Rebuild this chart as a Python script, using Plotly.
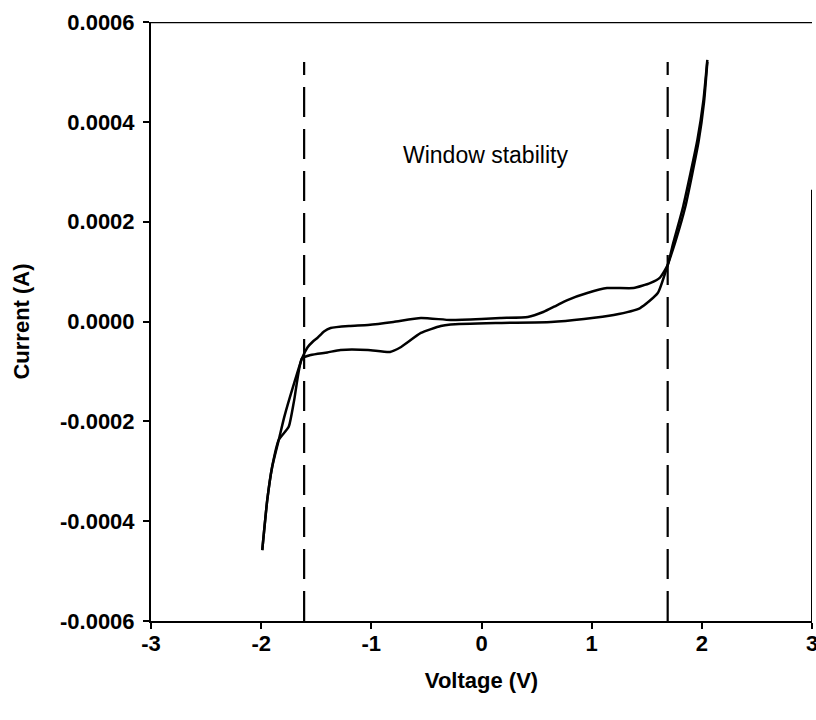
import plotly.graph_objects as go

# Upper branch of the cyclic voltammogram
upper_v = [-1.99, -1.945, -1.90, -1.84, -1.79, -1.70, -1.63, -1.58, -1.53, -1.49, -1.43, -1.37,
           -1.20, -1.03, -0.80, -0.55, -0.28, 0.00, 0.17, 0.42, 0.56, 0.68, 0.78, 0.96, 1.14,
           1.38, 1.53, 1.62, 1.69, 1.74, 1.83, 1.96, 2.015, 2.05]
upper_i = [-4.58e-4, -3.58e-4, -2.91e-4, -2.37e-4, -1.91e-4, -1.23e-4, -0.74e-4, -0.52e-4,
           -0.40e-4, -0.33e-4, -0.20e-4, -0.13e-4, -0.09e-4, -0.07e-4, -0.01e-4, 0.07e-4,
           0.03e-4, 0.05e-4, 0.07e-4, 0.09e-4, 0.19e-4, 0.32e-4, 0.43e-4, 0.57e-4, 0.67e-4,
           0.67e-4, 0.77e-4, 0.88e-4, 1.13e-4, 1.57e-4, 2.30e-4, 3.64e-4, 4.44e-4, 5.24e-4]

# Lower branch
lower_v = [-1.99, -1.945, -1.90, -1.84, -1.75, -1.70, -1.63, -1.55, -1.40, -1.28, -1.03,
           -0.83, -0.73, -0.55, -0.37, -0.28, 0.17, 0.63, 0.93, 1.20, 1.44, 1.60, 1.69, 1.76,
           1.85, 1.97, 2.02, 2.05]
lower_i = [-4.58e-4, -3.58e-4, -2.91e-4, -2.37e-4, -2.11e-4, -1.57e-4, -0.74e-4, -0.67e-4,
           -0.62e-4, -0.57e-4, -0.57e-4, -0.61e-4, -0.51e-4, -0.23e-4, -0.09e-4, -0.06e-4,
           -0.03e-4, -0.01e-4, 0.05e-4, 0.13e-4, 0.27e-4, 0.57e-4, 1.13e-4, 1.60e-4, 2.30e-4,
           3.60e-4, 4.40e-4, 5.20e-4]

# Stability window limits (dashed lines)
window_v = [-1.61, 1.69]
window_top = 5.2e-4

x_ticks = [-3, -2, -1, 0, 1, 2, 3]
y_ticks = [-0.0006, -0.0004, -0.0002, 0.0, 0.0002, 0.0004, 0.0006]
y_ticktext = ["-0.0006", "-0.0004", "-0.0002", "0.0000", "0.0002", "0.0004", "0.0006"]

font_family = "Arial, Liberation Sans, sans-serif"

fig = go.Figure()
for v, i in [(upper_v, upper_i), (lower_v, lower_i)]:
    fig.add_trace(go.Scatter(x=v, y=i, mode="lines",
                             line=dict(color="black", width=2.5, shape="spline", smoothing=0.5),
                             showlegend=False, hoverinfo="skip"))

for wv in window_v:
    fig.add_trace(go.Scatter(x=[wv, wv], y=[-0.0006, window_top], mode="lines",
                             line=dict(color="black", width=2.2, dash="30px,12px"),
                             showlegend=False, hoverinfo="skip"))

fig.add_annotation(x=0.04, y=0.000334, text="Window stability", showarrow=False,
                   font=dict(family=font_family, size=23, color="black"))

# frame: top full, right partial
fig.add_shape(type="line", x0=-3, x1=3.05, y0=0.0006, y1=0.0006, xref="x", yref="y",
              line=dict(color="black", width=2.5))
fig.add_shape(type="line", x0=3, x1=3, y0=-0.0006, y1=0.000264, xref="x", yref="y",
              line=dict(color="black", width=2))

tickfont = dict(family=font_family, size=22, color="black", weight="bold")
fig.update_layout(
    width=816, height=720,
    margin=dict(l=151, r=4, t=22, b=99),
    paper_bgcolor="white", plot_bgcolor="white",
    font=dict(family=font_family, size=22, color="black"),
    xaxis=dict(range=[-3, 3], tickvals=x_ticks, ticktext=[str(t) for t in x_ticks],
               automargin=False, ticklabeloverflow="allow",
               showgrid=False, zeroline=False, showline=True, linecolor="black", linewidth=2,
               ticks="outside", ticklen=6, tickwidth=2, tickcolor="black",
               tickfont=tickfont, ticklabelstandoff=-4,
               title=dict(text="<b>Voltage (V)</b>", font=dict(size=22), standoff=17)),
    yaxis=dict(range=[-0.0006, 0.0006], tickvals=y_ticks, ticktext=y_ticktext,
               automargin=False,
               showgrid=False, zeroline=False, showline=True, linecolor="black", linewidth=2,
               ticks="outside", ticklen=6, tickwidth=2, tickcolor="black",
               tickfont=tickfont, ticklabelstandoff=4,
               title=dict(text="<b>Current (A)</b>", font=dict(size=22), standoff=24)),
)

fig.write_html("out.html", config={"displayModeBar": False},
               post_script="document.body.style.margin='0';")
